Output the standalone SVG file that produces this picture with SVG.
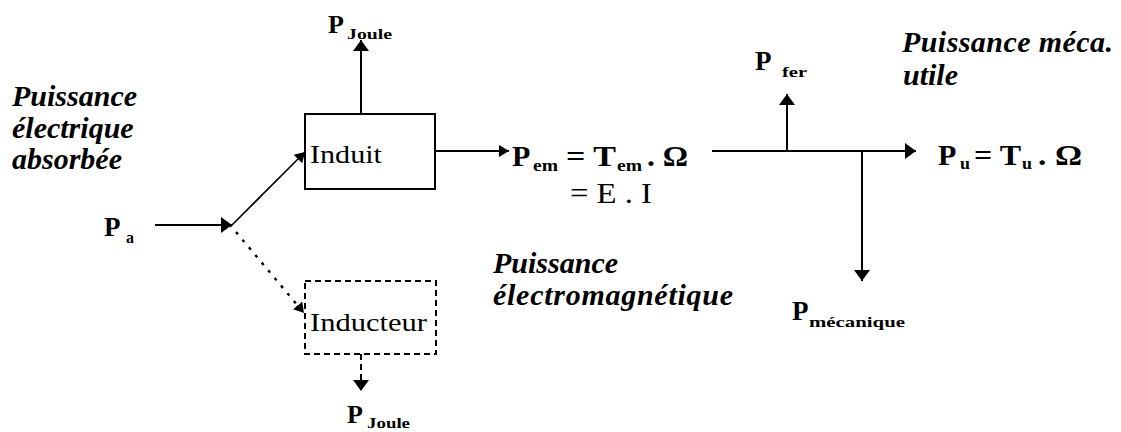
<svg xmlns="http://www.w3.org/2000/svg" width="1121" height="432" viewBox="0 0 1121 432" font-family="'Liberation Serif', 'Times New Roman', 'DejaVu Serif', serif">
<style>
text{font-family:'Liberation Serif','Times New Roman','DejaVu Serif',serif;fill:#000}
.it{font-style:italic;font-weight:bold;font-size:30px}
.b{font-weight:bold}
.lbl{font-size:25px}
.ln{stroke:#000;stroke-width:2;fill:none}
.thin{stroke:#000;stroke-width:1.6;fill:none}
.dash{stroke:#000;stroke-width:2;fill:none;stroke-dasharray:6 4}
.dot{stroke:#000;stroke-width:2.4;fill:none;stroke-dasharray:3 7}
</style>
<defs>
<marker id="ah" markerUnits="userSpaceOnUse" markerWidth="12" markerHeight="20" refX="11" refY="9" orient="auto" viewBox="0 0 12 18">
<path d="M0,1 L11,9 L0,17 z" fill="#000"/>
</marker>
<marker id="ahs" markerUnits="userSpaceOnUse" markerWidth="12" markerHeight="16" refX="10" refY="7" orient="auto" viewBox="0 0 12 14">
<path d="M0,1 L10,7 L0,13 z" fill="#000"/>
</marker>
</defs>

<g id="texts-left">
<text class="it" x="12" y="106">Puissance</text>
<text class="it" x="12" y="138">électrique</text>
<text class="it" x="12" y="169">absorbée</text>
</g>

<g id="node-pa">
<text class="b" x="104" y="236" font-size="27">P</text>
<text class="b" x="126" y="243" font-size="16">a</text>
</g>

<g id="node-induit">
<rect x="305" y="114" width="130" height="75" class="ln"/>
<text class="lbl" x="310" y="163" textLength="72" lengthAdjust="spacingAndGlyphs">Induit</text>
</g>

<g id="node-pjoule-top">
<text class="b" x="328" y="33" font-size="26">P</text>
<text class="b" x="347" y="39" font-size="14" textLength="45" lengthAdjust="spacingAndGlyphs">Joule</text>
</g>

<g id="node-inducteur">
<rect x="305" y="281" width="131" height="73" class="dash"/>
<text class="lbl" x="310" y="331" textLength="117" lengthAdjust="spacingAndGlyphs">Inducteur</text>
</g>

<g id="node-pjoule-bottom">
<text class="b" x="347" y="423" font-size="26">P</text>
<text class="b" x="367" y="428" font-size="14" textLength="43" lengthAdjust="spacingAndGlyphs">Joule</text>
</g>

<g id="node-pem">
<text class="b" x="512" y="166" font-size="30">P</text>
<text class="b" x="533" y="171" font-size="17" textLength="25" lengthAdjust="spacingAndGlyphs">em</text>
<text class="b" x="566" y="166" font-size="30" textLength="50" lengthAdjust="spacingAndGlyphs">= T</text>
<text class="b" x="617" y="171" font-size="17" textLength="25" lengthAdjust="spacingAndGlyphs">em</text>
<text class="b" x="647" y="166" font-size="30" textLength="41" lengthAdjust="spacingAndGlyphs">. Ω</text>
<text x="570" y="203" font-size="30" textLength="82" lengthAdjust="spacingAndGlyphs">= E . I</text>
</g>

<g id="texts-em">
<text class="it" x="493" y="273">Puissance</text>
<text class="it" x="493" y="305" textLength="240" lengthAdjust="spacing">électromagnétique</text>
</g>

<g id="node-pfer">
<text class="b" x="755" y="70" font-size="27">P</text>
<text class="b" x="782" y="77" font-size="14" textLength="25" lengthAdjust="spacingAndGlyphs">fer</text>
</g>

<g id="node-pmeca">
<text class="b" x="792" y="320" font-size="27">P</text>
<text class="b" x="809" y="327" font-size="14" textLength="96" lengthAdjust="spacingAndGlyphs">mécanique</text>
</g>

<g id="texts-right">
<text class="it" x="902" y="52" textLength="211" lengthAdjust="spacing">Puissance méca.</text>
<text class="it" x="903" y="85">utile</text>
</g>

<g id="node-pu">
<text class="b" x="938" y="165" font-size="30">P</text>
<text class="b" x="960" y="169" font-size="17" textLength="10" lengthAdjust="spacingAndGlyphs">u</text>
<text class="b" x="974" y="165" font-size="30" textLength="47" lengthAdjust="spacingAndGlyphs">= T</text>
<text class="b" x="1022" y="169" font-size="17" textLength="10" lengthAdjust="spacingAndGlyphs">u</text>
<text class="b" x="1038" y="165" font-size="30" textLength="44" lengthAdjust="spacingAndGlyphs">. Ω</text>
</g>

<g id="connectors">
<line x1="155" y1="225" x2="232" y2="225" class="ln" marker-end="url(#ah)"/>
<line x1="230" y1="227" x2="305" y2="152" class="thin" marker-end="url(#ahs)"/>
<line x1="236" y1="232" x2="304" y2="313" class="dot" marker-end="url(#ahs)"/>
<line x1="361" y1="114" x2="361" y2="40" class="ln" marker-end="url(#ah)"/>
<line x1="435" y1="151" x2="509" y2="151" class="ln" marker-end="url(#ahs)"/>
<line x1="361" y1="354" x2="361" y2="391" class="dash" marker-end="url(#ah)"/>
<line x1="712" y1="151" x2="916" y2="151" class="ln" marker-end="url(#ah)"/>
<line x1="787" y1="151" x2="787" y2="94" class="ln" marker-end="url(#ah)"/>
<line x1="862" y1="151" x2="862" y2="281" class="ln" marker-end="url(#ah)"/>
</g>
</svg>
